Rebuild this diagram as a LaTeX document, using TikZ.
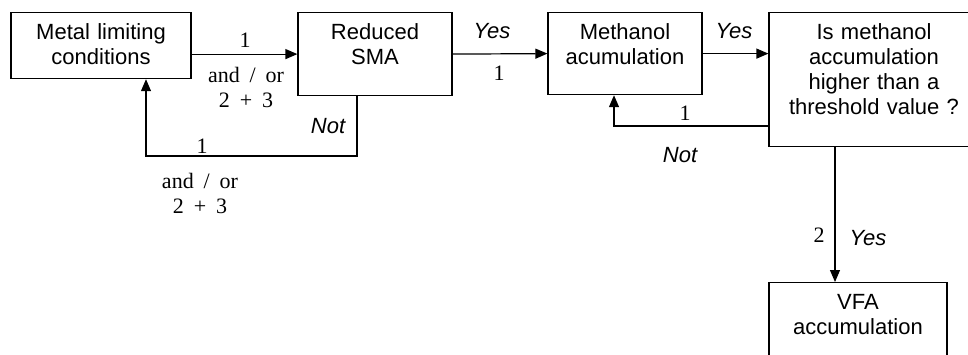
\documentclass[tikz,border=0pt]{standalone}
\usepackage{fontspec}
\setmainfont{Liberation Serif}
\setsansfont{Liberation Sans}
\usetikzlibrary{arrows.meta}
\newcommand\wsp{\hspace{0.45em}}

\begin{document}
\begin{tikzpicture}[x=0.5pt, y=-0.5pt,
    box/.style={draw, line width=0.6pt, inner sep=0pt, align=center, anchor=north, text height=13.5pt, font=\sffamily\fontsize{11}{12.5}\selectfont},
    lbl/.style={inner sep=0pt, anchor=base, align=center, text width=60pt, font=\rmfamily\fontsize{11}{12.5}\selectfont},
    yn/.style={inner sep=0pt, anchor=base, font=\sffamily\itshape\fontsize{11}{13}\selectfont},
    arr/.style={-{Triangle[length=6pt,width=5pt]}, line width=0.6pt}
]
\clip (0,0) rectangle (968,354);

\node[box, text width=90pt, text depth=19.5pt] (metal) at (101,12) {Metal limiting\\conditions};
\node[box, text width=77pt, text depth=28pt] (sma) at (375,12) {Reduced\\SMA};
\node[box, text width=77pt, text depth=27.5pt] (meth) at (625,12) {Methanol\\acumulation};
\node[box, text width=105pt, text depth=53.5pt] (quest) at (874,12) {Is methanol\\accumulation\\higher than a\\threshold value ?};
\node[box, text width=89pt, text depth=35pt] (vfa) at (858,282) {VFA\\accumulation};

\draw[arr] (metal.east |- sma.west) -- (sma.west);
\draw[arr] (sma.east) -- (meth.west);
\draw[arr] (meth.east) -- (meth.east -| quest.west);

\coordinate (n1) at (357,156);
\coordinate (n2) at (146,156);
\draw[arr] (sma.south -| n1) -- (n1) -- (n2) -- (metal.south -| n2);

\coordinate (n3) at (614,126);
\draw[arr] (quest.west |- n3) -- (n3) -- (meth.south -| n3);

\coordinate (n4) at (835,0);
\draw[arr] (quest.south -| n4) -- (vfa.north -| n4);

\node[lbl] (l1) at (245,47) {1};
\node[lbl] (l2) at (246,82) {and\wsp/\wsp or\\2\wsp+\wsp 3};
\node[yn] (not1) at (328,133) {Not};
\node[lbl] (l3) at (202,153) {1};
\node[lbl] (l4) at (200,188) {and\wsp/\wsp or\\2\wsp+\wsp 3};

\node[yn] (yes1) at (492,38) {Yes};
\node[lbl] (l5) at (499,80) {1};
\node[yn] (yes2) at (734,38) {Yes};
\node[lbl] (l6) at (685,120) {1};
\node[yn] (not2) at (680,162) {Not};

\node[lbl] (l7) at (819,242) {2};
\node[yn] (yes3) at (868,245) {Yes};
\end{tikzpicture}
\end{document}
